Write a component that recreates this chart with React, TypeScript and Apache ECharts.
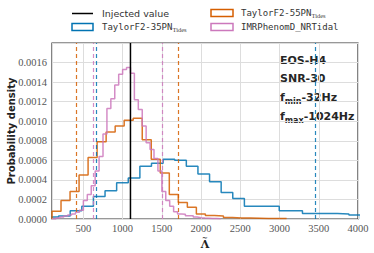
import React, { useEffect, useRef } from "react";
import * as echarts from "echarts";

// ---- data ----
const xMin = 100;
const xMax = 4000;
const yMax = 0.0018;
const yStep = 0.0002;

const injectedValue = 1100;

// TaylorF2-35PN_Tides histogram (bin start, bin width, densities)
const taylor35Start = 36;
const taylor35Width = 148;
const taylor35Density = [
  0.00002, 0.00003, 0.000085, 0.00013, 0.00023, 0.00029, 0.00037, 0.00042,
  0.00054, 0.00057, 0.00061, 0.0006, 0.00054, 0.00046, 0.00038, 0.00027,
  0.00021, 0.00013, 0.00013, 0.00013, 0.000085, 0.000085, 0.000055, 0.000055,
  0.000055, 0.00005, 0.00004,
];
const taylor35Bounds = [660, 3455];

// TaylorF2-55PN_Tides histogram
const taylor55Start = 100;
const taylor55Width = 115;
const taylor55Density = [
  0.00008, 0.00019, 0.00028, 0.00045, 0.00063, 0.00079, 0.00089, 0.00095,
  0.00101, 0.00103, 0.00081, 0.00061, 0.00047, 0.00025, 0.00017, 0.00012,
  0.00005, 0.000035, 0.00003, 0.000015, 0.00001, 0.00001, 0.000008, 0.000006,
  0.000005, 0.000004,
];
const taylor55Bounds = [415, 1712];

// IMRPhenomD_NRTidal histogram
const imrStart = 100;
const imrWidth = 50;
const imrDensity = [
  0, 0.00001, 0.00002, 0.00003, 0.00004, 0.00005, 0.00007, 0.00009, 0.00019,
  0.00025, 0.00034, 0.00049, 0.00064, 0.00087, 0.00113, 0.00123, 0.00137,
  0.00148, 0.00153, 0.00155, 0.00149, 0.00122, 0.00112, 0.00095, 0.00078,
  0.00071, 0.00062, 0.00049, 0.00028, 0.00019, 0.00013, 0.000075, 0.00005,
  0.000048, 0.000034, 0.000034, 0.00002, 0.000013, 0.00001, 0.000008,
  0.000005, 0.000004, 0.000003,
];
const imrBounds = [631, 1506];

const annotations = ["EOS-H4", "SNR-30"];

const BLUE = "#0173B2";
const ORANGE = "#D55E00";
const PINK = "#CC78BC";

function stepData(start: number, width: number, dens: number[]) {
  const pts: number[][] = [[start, 0]];
  dens.forEach((d, i) => pts.push([start + (i + 1) * width, d]));
  pts.push([start + dens.length * width, 0]);
  return pts;
}

function dashLines(bounds: number[], color: string) {
  return {
    silent: true,
    symbol: ["none", "none"],
    label: { show: false },
    lineStyle: { type: [4, 3], color, width: 1.2, opacity: 0.85 },
    data: bounds.map((b) => ({ xAxis: b })),
  };
}

const monoFont = "DejaVu Sans Mono";
const serifFont = "Liberation Serif";
const sansFont = "DejaVu Sans";

function legendText(x: number, y: number, main: string, sub?: string) {
  return {
    type: "text",
    x,
    y,
    style: {
      text: sub ? `{m|${main}}{s|${sub}}` : `{m|${main}}`,
      textVerticalAlign: "middle",
      rich: {
        m: { fontFamily: monoFont, fontSize: 9, fill: "#333", lineHeight: 12 },
        s: {
          fontFamily: serifFont,
          fontSize: 6.5,
          fill: "#444",
          verticalAlign: "bottom",
          lineHeight: 12,
          padding: [4, 0, 0, 0],
        },
      },
    },
  };
}

export default function App() {
  const ref = useRef<HTMLDivElement>(null);
  useEffect(() => {
    if (!ref.current) return;
    const chart = echarts.init(ref.current, undefined, { renderer: "svg" });
    const lineBase = {
      type: "line",
      step: "start",
      symbol: "none",
      showSymbol: false,
      clip: true,
    };
    chart.setOption({
      animation: false,
      backgroundColor: "#fff",
      grid: {
        left: 52,
        right: 16,
        top: 43,
        bottom: 34,
        show: true,
        borderColor: "#333",
        borderWidth: 1.2,
        outerBoundsMode: "none",
        containLabel: false,
      },
      xAxis: {
        type: "value",
        min: xMin,
        max: xMax,
        splitNumber: 8,
        axisLine: { show: false },
        axisTick: { show: false },
        axisLabel: {
          showMinLabel: false,
          formatter: (v: number) => String(v),
          fontFamily: serifFont,
          fontSize: 10.5,
          color: "#555",
          margin: 4,
        },
        splitLine: { show: true, lineStyle: { color: "#dddddd", width: 1 } },
        name: "{t|~}\n{l|Λ}",
        nameLocation: "middle",
        nameGap: 15,
        nameMoveOverlap: false,
        nameTextStyle: {
          rich: {
            t: {
              fontFamily: "DejaVu Serif",
              fontWeight: "bold",
              fontSize: 7,
              color: "#222",
              lineHeight: 6,
              align: "center",
            },
            l: {
              fontFamily: "DejaVu Serif",
              fontWeight: "bold",
              fontSize: 11,
              color: "#222",
              lineHeight: 9,
              align: "center",
            },
          },
        },
      },
      yAxis: {
        type: "value",
        min: 0,
        max: yMax,
        interval: yStep,
        axisLine: { show: false },
        axisTick: { show: false },
        axisLabel: {
          showMaxLabel: false,
          formatter: (v: number) => v.toFixed(4),
          fontFamily: serifFont,
          fontSize: 10.5,
          color: "#555",
          margin: 5,
        },
        splitLine: { show: true, lineStyle: { color: "#dddddd", width: 1 } },
        name: "Probability density",
        nameLocation: "middle",
        nameGap: 36,
        nameMoveOverlap: false,
        nameTextStyle: {
          fontFamily: sansFont,
          fontWeight: "bold",
          fontSize: 10,
          color: "#222",
        },
      },
      series: [
        {
          ...lineBase,
          name: "TaylorF2-35PN_Tides",
          data: stepData(taylor35Start, taylor35Width, taylor35Density),
          lineStyle: { color: BLUE, width: 1.5, opacity: 0.85 },
          itemStyle: { color: BLUE },
          markLine: dashLines(taylor35Bounds, BLUE),
        },
        {
          ...lineBase,
          name: "TaylorF2-55PN_Tides",
          data: stepData(taylor55Start, taylor55Width, taylor55Density),
          lineStyle: { color: ORANGE, width: 1.5, opacity: 0.85 },
          itemStyle: { color: ORANGE },
          markLine: dashLines(taylor55Bounds, ORANGE),
        },
        {
          ...lineBase,
          name: "IMRPhenomD_NRTidal",
          data: stepData(imrStart, imrWidth, imrDensity),
          lineStyle: { color: PINK, width: 1.5, opacity: 0.85 },
          itemStyle: { color: PINK },
          markLine: dashLines(imrBounds, PINK),
        },
        {
          type: "line",
          name: "Injected value",
          symbol: "none",
          data: [
            [injectedValue, 0],
            [injectedValue, yMax],
          ],
          lineStyle: { color: "#000", width: 1.5 },
          itemStyle: { color: "#000" },
          z: 5,
        },
      ],
      graphic: [
        {
          type: "line",
          shape: { x1: 72, y1: 13.5, x2: 93, y2: 13.5 },
          style: { stroke: "#000", lineWidth: 1.5 },
        },
        {
          type: "text",
          x: 102,
          y: 13.5,
          style: {
            text: "Injected value",
            fontFamily: sansFont,
            fontSize: 9.5,
            fill: "#333",
            textVerticalAlign: "middle",
          },
        },
        {
          type: "rect",
          shape: { x: 211, y: 9.5, width: 22, height: 7 },
          style: { fill: "none", stroke: ORANGE, lineWidth: 1.5 },
        },
        legendText(241, 13, "TaylorF2-55PN", "Tides"),
        {
          type: "rect",
          shape: { x: 72, y: 23.5, width: 21, height: 7 },
          style: { fill: "none", stroke: BLUE, lineWidth: 1.5 },
        },
        legendText(102, 27, "TaylorF2-35PN", "Tides"),
        {
          type: "rect",
          shape: { x: 211, y: 23.5, width: 22, height: 7 },
          style: { fill: "none", stroke: PINK, lineWidth: 1.5 },
        },
        legendText(241, 27, "IMRPhenomD_NRTidal"),
        ...annotations.map((t, i) => ({
          type: "text",
          x: 280,
          y: 60 + i * 18.5,
          style: {
            text: t,
            fontFamily: sansFont,
            fontWeight: "bold",
            fontSize: 11,
            fill: "#262626",
            textVerticalAlign: "middle",
          },
        })),
        ...[
          ["min", "-32Hz", 97],
          ["max", "-1024Hz", 116.5],
        ].map(([sub, rest, y]) => ({
          type: "text",
          x: 280,
          y: y as number,
          style: {
            text: `{b|f}{s|${sub}}{b|${rest}}`,
            textVerticalAlign: "middle",
            rich: {
              b: {
                fontFamily: sansFont,
                fontWeight: "bold",
                fontSize: 11,
                fill: "#262626",
                lineHeight: 16,
              },
              s: {
                fontFamily: sansFont,
                fontWeight: "bold",
                fontSize: 8,
                fill: "#262626",
                verticalAlign: "bottom",
                lineHeight: 16,
                padding: [5, 0, 0, 0],
              },
            },
          },
        })),
      ],
    });
    return () => chart.dispose();
  }, []);
  return (
    <div
      ref={ref}
      style={{ position: "fixed", left: 0, top: 0, width: 374, height: 253 }}
    />
  );
}
